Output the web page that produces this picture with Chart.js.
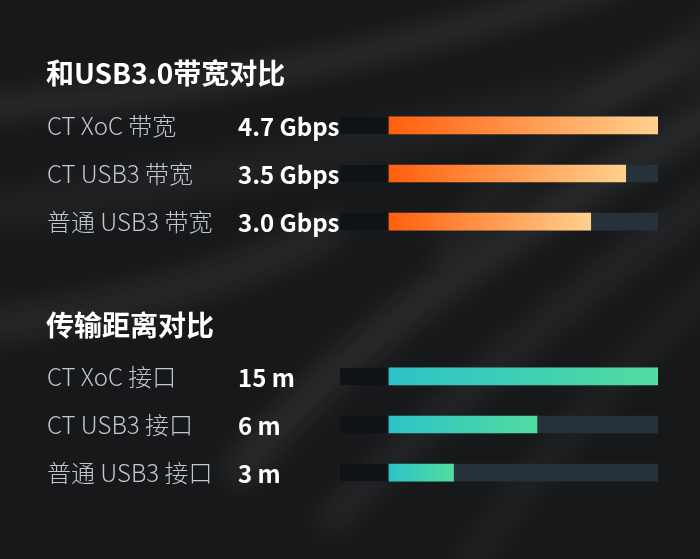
<!DOCTYPE html>
<html lang="zh-CN">
<head>
<meta charset="UTF-8">
<title>带宽与传输距离对比</title>
<script src="https://cdn.jsdelivr.net/npm/chart.js@4/dist/chart.umd.min.js"></script>
<style>
*{margin:0;padding:0;box-sizing:border-box}
body{width:700px;height:559px;overflow:hidden;background:#17181a;font-family:"Noto Sans CJK SC","Noto Sans",sans-serif;position:relative}
#bg{position:absolute;left:0;top:0}
.ttl{position:absolute;left:46px;color:#fff;font-weight:700;font-size:28px;line-height:1}
.box{position:absolute;left:0;width:700px;height:179px}
</style>
</head>
<body>
<canvas id="bg" width="700" height="559"></canvas>
<div class="ttl" style="top:58px">和USB3.0带宽对比</div>
<div class="box" style="top:84px"><canvas id="c1" width="700" height="179"></canvas></div>
<div class="ttl" style="top:310px">传输距离对比</div>
<div class="box" style="top:335px"><canvas id="c2" width="700" height="179"></canvas></div>
<script>
// bandwidth block
var bwLabels = ["CT XoC 带宽", "CT USB3 带宽", "普通 USB3 带宽"];
var bwValues = ["4.7 Gbps", "3.5 Gbps", "3.0 Gbps"];
var bwFill = [100, 88, 75];   // bar length as drawn, % of track

// distance block
var distLabels = ["CT XoC 接口", "CT USB3 接口", "普通 USB3 接口"];
var distValues = ["15 m", "6 m", "3 m"];
var distFill = [100, 55, 24];

var trackMax = 100;

// background swooshes
(function(){
  var c = document.getElementById("bg").getContext("2d");
  c.fillStyle = "#17181a";
  c.fillRect(0, 0, 700, 559);
  function sw(x0, y0, cx, cy, x1, y1, w, a, blur){
    c.save();
    c.filter = "blur(" + blur + "px)";
    c.strokeStyle = "rgba(255,255,255," + a + ")";
    c.lineWidth = w;
    c.lineCap = "round";
    c.beginPath();
    c.moveTo(x0, y0);
    c.quadraticCurveTo(cx, cy, x1, y1);
    c.stroke();
    c.restore();
  }
  sw(-40, 108, 280, 95, 620, -20, 24, 0.09, 12);
  sw(-40, 215, 300, 170, 720, 60, 30, 0.06, 16);
  sw(-40, 330, 200, 300, 330, 230, 30, 0.08, 14);
  sw(240, 470, 380, 300, 720, 110, 30, 0.09, 14);
  sw(330, 520, 520, 330, 720, 190, 26, 0.07, 14);
  sw(470, 560, 600, 380, 720, 280, 24, 0.05, 14);
  sw(440, 250, 560, 120, 720, 20, 22, 0.06, 14);
})();

function grad(c0, c1){
  return function(ctx){
    var ch = ctx.chart;
    if (!ch.chartArea || ctx.type !== "data") return c0;
    var x = ch.scales.x;
    var g = ch.ctx.createLinearGradient(x.getPixelForValue(0), 0, x.getPixelForValue(ctx.raw), 0);
    g.addColorStop(0, c0);
    g.addColorStop(1, c1);
    return g;
  };
}

var rowText = {
  id: "rowText",
  beforeDatasetsDraw: function(ch, args, o){
    var c = ch.ctx, y = ch.scales.y, x = ch.scales.x, a = ch.chartArea;
    c.save();
    c.fillStyle = "#0f1317";
    ch.data.labels.forEach(function(l, i){
      var py = y.getPixelForValue(i);
      c.fillRect(a.left, py - 8.5, x.getPixelForValue(0) - a.left, 17);
    });
    c.restore();
  },
  afterDatasetsDraw: function(ch, args, o){
    var c = ch.ctx, y = ch.scales.y;
    c.save();
    c.font = "700 24px 'Noto Sans CJK SC'";
    c.fillStyle = "#ffffff";
    c.textAlign = "left";
    c.textBaseline = "middle";
    o.values.forEach(function(v, i){
      c.fillText(v, o.x, y.getPixelForValue(i) + 1);
    });
    c.restore();
  }
};

function makeChart(id, labels, fill, values, c0, c1){
  return new Chart(document.getElementById(id), {
    type: "bar",
    data: {
      labels: labels,
      datasets: [
        {data: fill, backgroundColor: grad(c0, c1), grouped: false, order: 0, barThickness: 17, borderWidth: 0},
        {data: labels.map(function(){ return trackMax; }), backgroundColor: "#26313b", grouped: false, order: 1, barThickness: 17, borderWidth: 0}
      ]
    },
    options: {
      indexAxis: "y",
      responsive: false,
      animation: false,
      devicePixelRatio: 1,
      layout: {padding: {left: 47, right: 42, top: 0, bottom: 0}},
      scales: {
        x: {display: false, min: -18.2, max: trackMax},
        y: {
          grid: {display: false},
          border: {display: false},
          afterFit: function(s){ s.width = 293; },
          ticks: {crossAlign: "far", color: "#c3c7cc", font: {family: "'Noto Sans CJK SC'", size: 24, weight: 300}}
        }
      },
      plugins: {
        legend: {display: false},
        tooltip: {enabled: false},
        rowText: {values: values, x: 238}
      }
    },
    plugins: [rowText]
  });
}

makeChart("c1", bwLabels, bwFill, bwValues, "#ff5f0d", "#ffd18e");
makeChart("c2", distLabels, distFill, distValues, "#2cc3c8", "#52dca0");
</script>
</body>
</html>
